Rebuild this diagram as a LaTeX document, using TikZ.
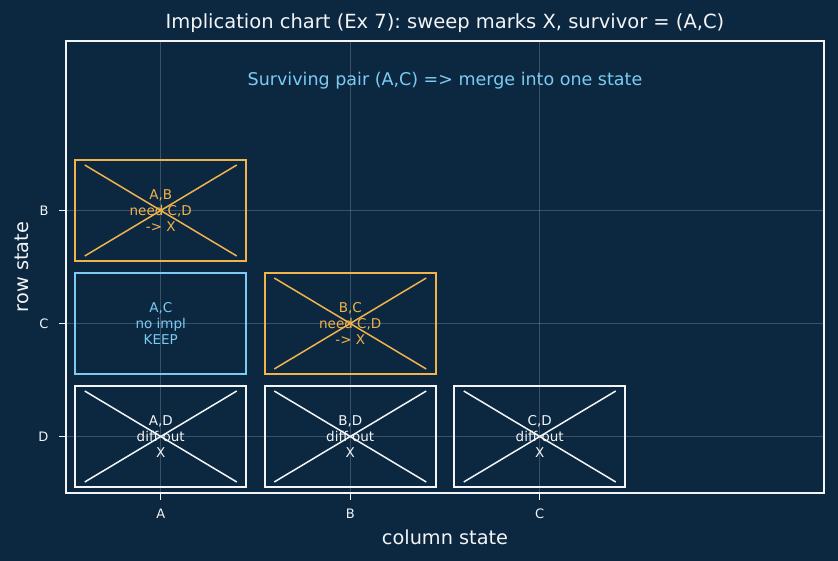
\documentclass[tikz,border=0pt]{standalone}
\usepackage{xcolor}
\usepackage{fontspec}
\setmainfont{DejaVu Sans}
\usepackage{tikz}
\usetikzlibrary{calc}
\definecolor{navy}{HTML}{0C2841}
\definecolor{amber}{HTML}{F2B24C}
\definecolor{sky}{HTML}{7CCBF2}
\definecolor{chalk}{HTML}{F2F4F6}
\frenchspacing

\begin{document}
\begin{tikzpicture}[x=1pt, y=-1pt]
\tikzstyle{cell}=[rectangle, draw, line width=2pt, minimum width=171pt, minimum height=101pt, inner sep=0pt, align=center, font=\fontsize{13.5}{16}\selectfont]
\tikzstyle{tick}=[font=\fontsize{13}{15}\selectfont, text=chalk]
\tikzstyle{grid}=[line width=0.8pt, draw=chalk, opacity=0.2]
\tikzstyle{label}=[font=\fontsize{19.3}{23}\selectfont, text=chalk]

\fill[navy] (0,0) rectangle (838,561);
\useasboundingbox (0,0) rectangle (838,561);

% grid
\foreach \gx in {160.75, 350.25, 539.75} \draw[grid] (\gx,41) -- (\gx,493);
\foreach \gy in {210.5, 323.5, 436.5} \draw[grid] (66,\gy) -- (824,\gy);

% pairs
\node[cell, amber] (ab) at (160.75,210.5) {A,B\\need C,D\\-> X};
\node[cell, sky] (ac) at (160.75,323.5) {A,C\\no impl\\KEEP};
\node[cell, amber] (bc) at (350.25,323.5) {B,C\\need C,D\\-> X};
\node[cell, chalk] (ad) at (160.75,436.5) {A,D\\diff out\\X};
\node[cell, chalk] (bd) at (350.25,436.5) {B,D\\diff out\\X};
\node[cell, chalk] (cd) at (539.75,436.5) {C,D\\diff out\\X};

% crossed out
\foreach \n in {ab, bc}
  \draw[amber, line width=1.5pt] ($(\n)+(-76,-45.5)$) -- ($(\n)+(76,45.5)$)
    ($(\n)+(-76,45.5)$) -- ($(\n)+(76,-45.5)$);
\foreach \n in {ad, bd, cd}
  \draw[chalk, line width=1.5pt] ($(\n)+(-76,-45.5)$) -- ($(\n)+(76,45.5)$)
    ($(\n)+(-76,45.5)$) -- ($(\n)+(76,-45.5)$);

% axes
\draw[chalk, line width=1.2pt] (66,41) rectangle (824,493);
\foreach \gx/\lab in {160.75/A, 350.25/B, 539.75/C} {
  \draw[chalk, line width=1pt] (\gx,493) -- (\gx,500);
  \node[tick, anchor=base] (col\lab) at (\gx,518.3) {\lab};
}
\foreach \gy/\lab in {210.5/B, 323.5/C, 436.5/D} {
  \draw[chalk, line width=1pt] (66,\gy) -- (58.5,\gy);
  \node[tick, anchor=base east] (row\lab) at (52,\gy+5.3) {\lab};
}
\node[label, anchor=base] (xlabel) at (445,544) {column state};
\node[label, rotate=90, anchor=base] (ylabel) at (28.5,267) {row state};

\node[label, anchor=base, font=\fontsize{19.5}{23}\selectfont] (title) at (445,29)
  {Implication chart (Ex 7): sweep marks X, survivor = (A,C)};
\node[anchor=base, text=sky, font=\fontsize{17.5}{21}\selectfont] (note) at (445,86)
  {Surviving pair (A,C) => merge into one state};
\end{tikzpicture}
\end{document}
